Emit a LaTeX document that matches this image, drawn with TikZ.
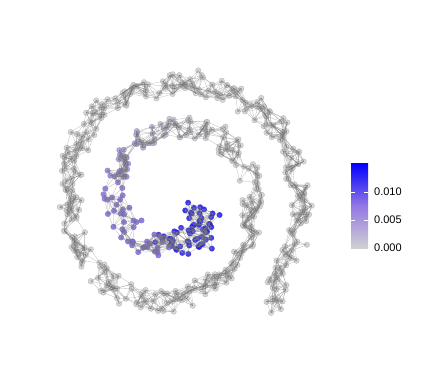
\documentclass[tikz,border=0pt]{standalone}
\usepackage{fontspec}
\setmainfont{Liberation Sans}
\definecolor{lowgray}{RGB}{208,208,208}
\definecolor{midlav}{RGB}{145,118,228}
\definecolor{topblue}{RGB}{0,0,255}
\definecolor{edgegray}{RGB}{120,120,120}
\newcounter{vnum}
\tikzset{
  vtx/.style={circle, inner sep=0pt, minimum size=5.5pt, fill=#1, fill opacity=0.85,
    draw=#1!65!black, draw opacity=0.4, line width=0.5pt},
  link/.style={edgegray, line width=0.3pt, opacity=0.5},
  barlabel/.style={anchor=west, inner sep=0pt, font=\fontsize{11}{13}\selectfont},
}

\begin{document}
\begin{tikzpicture}[x=1pt,y=-1pt]
\useasboundingbox (0,0) rectangle (423,383);
\pgfmathsetseed{17}
\gdef\arcpos{0}

% vertices along the roll, coloured by distance from the inner end
\foreach \px/\py [remember=\px as \qx (initially 213), remember=\py as \qy (initially 213)] in
  {197/216, 203/235, 185/245, 165/237, 148/245, 130/228, 115/212, 113/190, 117/172,
   128/152, 143/138, 163/130, 185/127, 207/130, 223/138, 238/150, 247/167, 252/190,
   252/212, 250/232, 242/252, 227/269, 207/288, 183/301, 150/302, 117/287, 86/258,
   72/225, 70/190, 72/158, 82/132, 96/113, 117/99, 150/87, 190/80, 223/90, 250/106,
   275/125, 292/150, 300/180, 302/215, 297/245, 285/270, 276/295, 273/312}
{
  \pgfmathsetmacro\seglen{veclen(\px-\qx,\py-\qy)}
  \pgfmathtruncatemacro\nseg{max(1,round(\seglen/(\arcpos<70 ? 1.3 : 2.1)))}
  \foreach \k in {1,...,\nseg}{
    \stepcounter{vnum}
    \pgfmathsetmacro\tpos{(\k-0.5+0.45*rand)/\nseg}
    \pgfmathsetmacro\spos{\arcpos+\tpos*\seglen}
    \pgfmathsetmacro\jit{\spos<80 ? 13 : 11}
    \pgfmathsetmacro\vx{\qx+\tpos*(\px-\qx)+\jit*rand}
    \pgfmathsetmacro\vy{\qy+\tpos*(\py-\qy)+\jit*rand}
    \pgfmathsetmacro\fval{\spos<80 ? 0.93-0.001*\spos : (\spos<140 ? 0.55 : 0.55*exp(-((\spos-140)/90)^2))}
    \ifdim\fval pt<0.5pt
      \pgfmathtruncatemacro\pc{200*\fval}
      \colorlet{vcol}{midlav!\pc!lowgray}
    \else
      \pgfmathtruncatemacro\pc{200*\fval-100}
      \colorlet{vcol}{topblue!\pc!midlav}
    \fi
    \node[vtx=vcol] (v\thevnum) at (\vx,\vy) {};
    \expandafter\xdef\csname vx\thevnum\endcsname{\vx}
    \expandafter\xdef\csname vy\thevnum\endcsname{\vy}
  }
  \pgfmathparse{\arcpos+\seglen}\xdef\arcpos{\pgfmathresult}
}

% links between close vertices
\edef\nlast{\arabic{vnum}}
\foreach \i in {1,...,\nlast}{
  \foreach \j in {1,...,12}{
    \pgfmathtruncatemacro\jnode{\i+\j}
    \ifnum\jnode>\nlast\relax\else
      \edef\xa{\csname vx\i\endcsname}\edef\ya{\csname vy\i\endcsname}
      \edef\xb{\csname vx\jnode\endcsname}\edef\yb{\csname vy\jnode\endcsname}
      \pgfmathsetmacro\dist{veclen(\xa-\xb,\ya-\yb)}
      \ifdim\dist pt<17pt
        \draw[link] (v\i.center) -- (v\jnode.center);
      \fi
    \fi
  }
}

% colour bar
\shade[top color=topblue, bottom color=midlav] (351,163) rectangle (368,205.5);
\shade[top color=midlav, bottom color=lowgray] (351,205) rectangle (368,248);
\foreach \ty in {192,220}{
  \draw[white, line width=0.6pt] (351,\ty) -- (355,\ty) (364,\ty) -- (368,\ty);
}
\node[barlabel] (lab010) at (374,192) {0.010};
\node[barlabel] (lab005) at (374,220) {0.005};
\node[barlabel] (lab000) at (374,248) {0.000};
\end{tikzpicture}
\end{document}
